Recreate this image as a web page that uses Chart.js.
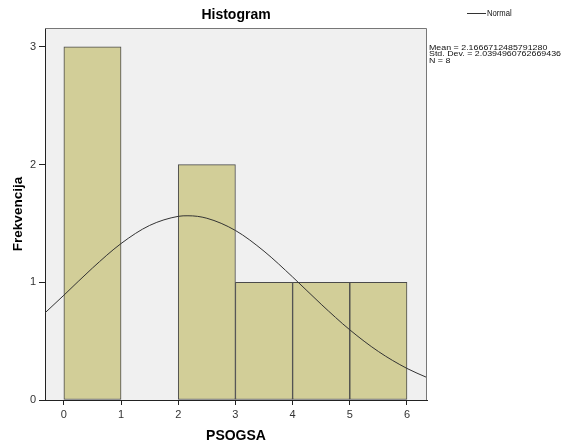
<!DOCTYPE html>
<html>
<head>
<meta charset="utf-8">
<script src="https://cdn.jsdelivr.net/npm/chart.js@4.4.1/dist/chart.umd.min.js"></script>
<style>
  html, body { margin: 0; padding: 0; background: #fff; }
  #wrap { width: 565px; height: 446px; }
</style>
</head>
<body>
<div id="wrap"><canvas id="chart" width="565" height="446"></canvas></div>
<script>
// ----------------------------------------------------------------------
// histogram bins (bin centre) and counts
const binCentres = [0.5, 2.5, 3.5, 4.5, 5.5]
const binCounts = [3, 2, 1, 1, 1]

// normal curve
const curveX = [-0.33, 0, 0.5, 1, 1.5, 2, 2.17, 2.5, 3, 3.5, 4, 4.5, 5, 5.5, 6, 6.35]
const curveY = [0.74, 0.89, 1.121, 1.329, 1.483, 1.56, 1.565, 1.544, 1.44, 1.264, 1.045, 0.813, 0.596, 0.412, 0.268, 0.191]

const yTicks = [0, 1, 2, 3]
const xTicks = [0, 1, 2, 3, 4, 5, 6]

const statLines = ["Mean = 2.1666712485791280", "Std. Dev. = 2.0394960762669436", "N = 8"]

// ----------------------------------------------------------------------
const sansFont = '"Liberation Sans", Arial, sans-serif'

// draw text squeezed horizontally (SPSS uses a narrow font here)
function narrowText(ctx, s, x, y, squeeze) {
    ctx.save()
    ctx.translate(x, y)
    ctx.scale(squeeze, 1)
    ctx.fillText(s, 0, 0)
    ctx.restore()
}

const textPlugin = {
    id: 'spssText',
    beforeDraw(chart) {
        const ctx = chart.ctx
        const a = chart.chartArea
        ctx.save()
        ctx.fillStyle = '#f0f0f0'
        ctx.fillRect(a.left, a.top, a.right - a.left, a.bottom - a.top)
        ctx.restore()
    },
    afterDraw(chart) {
        const ctx = chart.ctx
        const a = chart.chartArea
        ctx.save()
        // frame top / right
        ctx.strokeStyle = '#777'
        ctx.lineWidth = 1
        ctx.beginPath()
        ctx.moveTo(a.left, a.top + 0.5)
        ctx.lineTo(a.right - 0.5, a.top + 0.5)
        ctx.lineTo(a.right - 0.5, a.bottom)
        ctx.stroke()

        ctx.fillStyle = '#000'
        ctx.textAlign = 'center'
        ctx.textBaseline = 'middle'
        ctx.font = 'bold 14px ' + sansFont
        ctx.fillText('Histogram', (a.left + a.right) / 2, 15)

        ctx.font = 'bold 14px ' + sansFont
        ctx.fillText('PSOGSA', (a.left + a.right) / 2, 436)

        ctx.save()
        ctx.translate(18, (a.top + a.bottom) / 2)
        ctx.rotate(-Math.PI / 2)
        ctx.font = 'bold 13.5px ' + sansFont
        ctx.fillText('Frekvencija', 0, 0)
        ctx.restore()

        // legend
        ctx.strokeStyle = '#333'
        ctx.beginPath()
        ctx.moveTo(467, 13.5)
        ctx.lineTo(486, 13.5)
        ctx.stroke()
        ctx.textAlign = 'left'
        ctx.font = '9px ' + sansFont
        ctx.fillStyle = '#111'
        narrowText(ctx, chart.data.datasets[1].label, 487, 14, 0.85)

        // stats
        ctx.font = '8px ' + sansFont
        const w = ctx.measureText(statLines[1]).width
        const squeeze = 132 / w
        statLines.forEach((s, i) => narrowText(ctx, s, 429, 48 + i * 6.2, squeeze))
        ctx.restore()
    }
}

const config = {
    type: 'bar',
    data: {
        datasets: [
            {
                label: 'Frekvencija',
                data: binCentres.map((x, i) => ({ x: x, y: binCounts[i] })),
                backgroundColor: '#d2ce98',
                borderColor: '#4a4a4a',
                borderWidth: 1,
                borderSkipped: false,
                barPercentage: 1,
                categoryPercentage: 1,
                order: 2
            },
            {
                type: 'line',
                label: 'Normal',
                data: curveX.map((x, i) => ({ x: x, y: curveY[i] })),
                borderColor: '#333',
                borderWidth: 1,
                pointRadius: 0,
                cubicInterpolationMode: 'monotone',
                fill: false,
                order: 1
            }
        ]
    },
    options: {
        responsive: false,
        animation: false,
        layout: { padding: { top: 28, right: 138, left: 0, bottom: 0 } },
        plugins: {
            legend: { display: false },
            title: { display: false },
            tooltip: { enabled: false }
        },
        scales: {
            x: {
                type: 'linear',
                offset: false,
                min: -0.33,
                max: 6.35,
                afterFit: s => { s.height = 46 },
                afterBuildTicks: s => { s.ticks = xTicks.map(v => ({ value: v })) },
                ticks: { stepSize: 1, includeBounds: false, color: '#333', padding: 3,
                    font: { family: sansFont, size: 11 }, maxRotation: 0 },
                grid: { offset: false, drawOnChartArea: false, drawTicks: true, tickLength: 5, color: '#222' },
                border: { color: '#222', width: 1 }
            },
            y: {
                min: 0,
                max: 3.16,
                afterFit: s => { s.width = 45 },
                afterBuildTicks: s => { s.ticks = yTicks.map(v => ({ value: v })) },
                ticks: { stepSize: 1, includeBounds: false, color: '#333', padding: 3,
                    font: { family: sansFont, size: 11 } },
                grid: { drawOnChartArea: false, drawTicks: true, tickLength: 6, color: '#222' },
                border: { color: '#222', width: 1 }
            }
        }
    },
    plugins: [textPlugin]
}

const chart = new Chart(document.getElementById('chart'), config)
</script>
</body>
</html>
